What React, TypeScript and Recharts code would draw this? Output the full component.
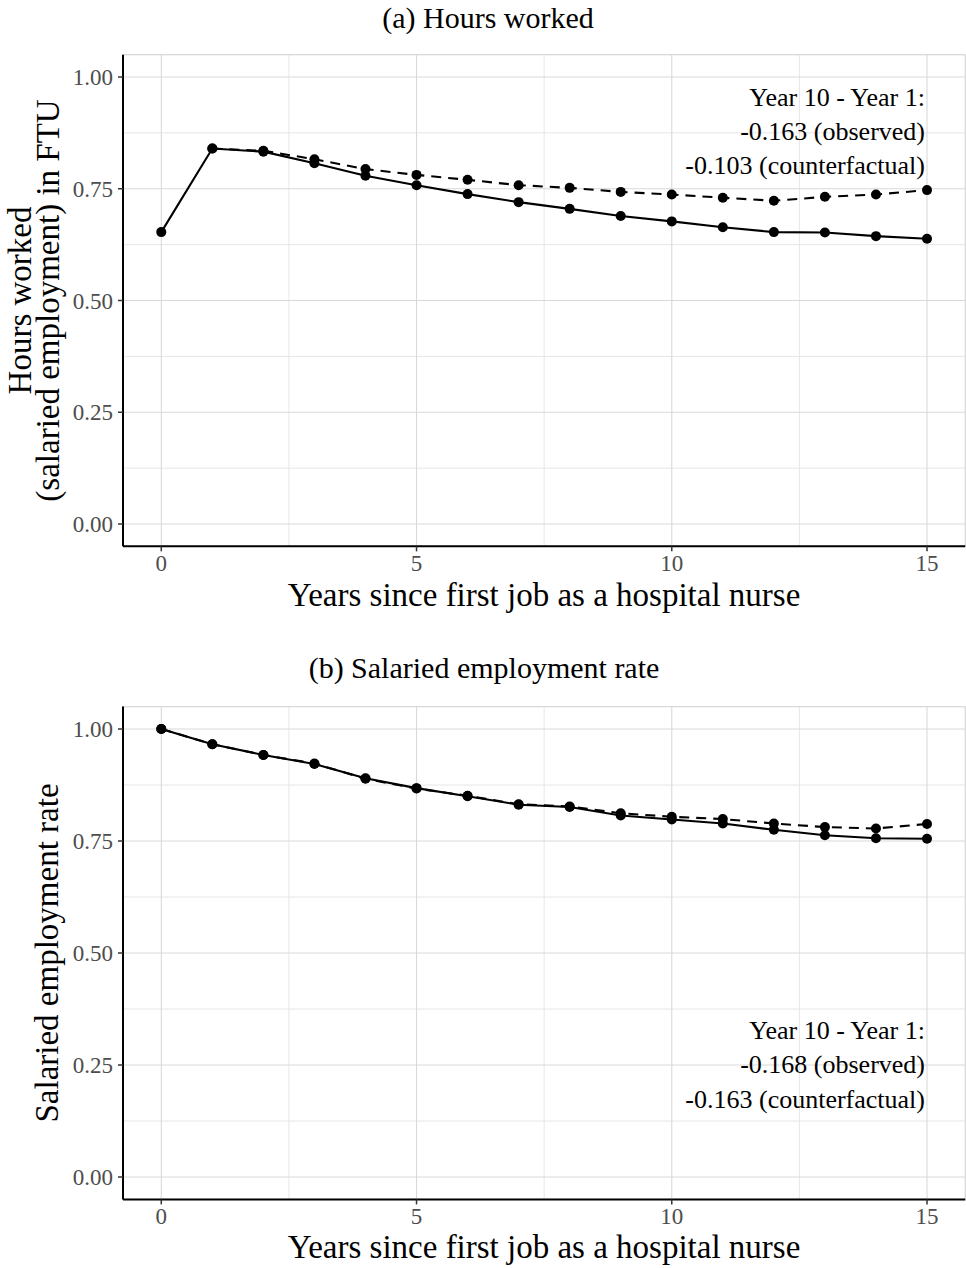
import React from 'react';
import { LineChart, Line, XAxis, YAxis, CartesianGrid } from 'recharts';

const years = [0, 1, 2, 3, 4, 5, 6, 7, 8, 9, 10, 11, 12, 13, 14, 15];
const hoursObserved = [0.653, 0.840, 0.833, 0.807, 0.779, 0.758, 0.738, 0.720, 0.705, 0.689, 0.677, 0.664, 0.653, 0.652, 0.644, 0.638];
const hoursCounterfactual = [null, 0.840, 0.835, 0.816, 0.794, 0.781, 0.770, 0.758, 0.752, 0.743, 0.737, 0.730, 0.723, 0.732, 0.737, 0.747];
const empObserved = [1.000, 0.966, 0.942, 0.922, 0.890, 0.868, 0.850, 0.831, 0.826, 0.807, 0.798, 0.789, 0.775, 0.763, 0.756, 0.755];
const empCounterfactual = [1.000, 0.966, 0.942, 0.923, 0.889, 0.867, 0.851, 0.832, 0.827, 0.812, 0.804, 0.799, 0.789, 0.781, 0.778, 0.788];

const xTicks = [0, 5, 10, 15];
const xMinorTicks = [2.5, 7.5, 12.5];
const yTicks = [0, 0.25, 0.5, 0.75, 1];
const yMinorTicks = [0.125, 0.375, 0.625, 0.875];
const xDomain: [number, number] = [-0.75, 15.75];
const yDomain: [number, number] = [-0.05, 1.05];

const hoursData = years.map((y, i) => ({ year: y, obs: hoursObserved[i], cf: hoursCounterfactual[i] }));
const empData = years.map((y, i) => ({ year: y, obs: empObserved[i], cf: empCounterfactual[i] }));

const FONT = "'Liberation Serif', 'Times New Roman', serif";
const W = 966;
const H = 634;

function Panel({ data, marginTop, marginBottom }: { data: any[]; marginTop: number; marginBottom: number }) {
  const tickStyle = { fontSize: 23, fill: '#4D4D4D', fontFamily: FONT };
  return (
    <LineChart width={W} height={H} data={data} margin={{ top: marginTop, right: 0.7, bottom: marginBottom, left: 0 }}>
      <CartesianGrid xAxisId="minor" yAxisId="minor" stroke="#E3E3E3" strokeWidth={0.9} />
      <CartesianGrid xAxisId="main" yAxisId="main" stroke="#D9D9D9" strokeWidth={1.1} />
      <XAxis xAxisId="minor" dataKey="year" type="number" domain={xDomain} ticks={xMinorTicks} hide allowDataOverflow />
      <YAxis yAxisId="minor" type="number" domain={yDomain} ticks={yMinorTicks} hide allowDataOverflow />
      <XAxis
        xAxisId="main"
        dataKey="year"
        type="number"
        domain={xDomain}
        ticks={xTicks}
        allowDataOverflow
        height={60}
        tick={tickStyle}
        tickSize={5}
        tickMargin={3}
        axisLine={{ stroke: '#000', strokeWidth: 2 }}
        tickLine={{ stroke: '#333', strokeWidth: 1.5 }}
      />
      <YAxis
        yAxisId="main"
        type="number"
        domain={yDomain}
        ticks={yTicks}
        allowDataOverflow
        width={123}
        tickFormatter={(v: number) => v.toFixed(2)}
        tick={tickStyle}
        tickSize={5}
        tickMargin={5}
        axisLine={{ stroke: '#000', strokeWidth: 2 }}
        tickLine={{ stroke: '#333', strokeWidth: 1.5 }}
      />
      <Line
        xAxisId="main"
        yAxisId="main"
        type="linear"
        dataKey="cf"
        stroke="#000"
        strokeWidth={2.1}
        strokeDasharray="10 7"
        dot={{ r: 5, fill: '#000', stroke: '#000', strokeWidth: 0 }}
        activeDot={false}
        isAnimationActive={false}
      />
      <Line
        xAxisId="main"
        yAxisId="main"
        type="linear"
        dataKey="obs"
        stroke="#000"
        strokeWidth={2.1}
        dot={{ r: 5, fill: '#000', stroke: '#000', strokeWidth: 0 }}
        activeDot={false}
        isAnimationActive={false}
      />
    </LineChart>
  );
}

export default function App() {
  const title = { fontFamily: FONT, fontSize: 30, fill: '#000' };
  const axisTitle = { fontFamily: FONT, fontSize: 33, fill: '#000' };
  const yTitle = { fontFamily: FONT, fontSize: 33, fill: '#000' };
  const ann = { fontFamily: FONT, fontSize: 26, fill: '#000' };
  return (
    <div style={{ position: 'absolute', left: 0, top: 0, width: W, height: 1268, background: '#fff' }}>
      <div style={{ position: 'absolute', left: 0, top: 0 }}>
        <Panel data={hoursData} marginTop={54.65} marginBottom={27.65} />
      </div>
      <div style={{ position: 'absolute', left: 0, top: H }}>
        <Panel data={empData} marginTop={72.6} marginBottom={8.6} />
      </div>
      <svg width={W} height={1268} style={{ position: 'absolute', left: 0, top: 0, pointerEvents: 'none' }}>
        <text x={488} y={28} textAnchor="middle" style={title}>(a) Hours worked</text>
        <text x={484} y={678} textAnchor="middle" style={title}>(b) Salaried employment rate</text>

        <text x={544} y={606} textAnchor="middle" style={axisTitle}>Years since first job as a hospital nurse</text>
        <text x={544} y={1258} textAnchor="middle" style={axisTitle}>Years since first job as a hospital nurse</text>

        <text transform="translate(31,300.5) rotate(-90)" textAnchor="middle" style={yTitle}>Hours worked</text>
        <text transform="translate(59,300.5) rotate(-90)" textAnchor="middle" style={yTitle}>(salaried employment) in FTU</text>
        <text transform="translate(58,953) rotate(-90)" textAnchor="middle" style={yTitle}>Salaried employment rate</text>

        <text x={925} y={106} textAnchor="end" style={ann}>Year 10 - Year 1:</text>
        <text x={925} y={140} textAnchor="end" style={ann}>-0.163 (observed)</text>
        <text x={925} y={174} textAnchor="end" style={ann}>-0.103 (counterfactual)</text>

        <text x={925} y={1039} textAnchor="end" style={ann}>Year 10 - Year 1:</text>
        <text x={925} y={1073} textAnchor="end" style={ann}>-0.168 (observed)</text>
        <text x={925} y={1108} textAnchor="end" style={ann}>-0.163 (counterfactual)</text>
      </svg>
    </div>
  );
}
